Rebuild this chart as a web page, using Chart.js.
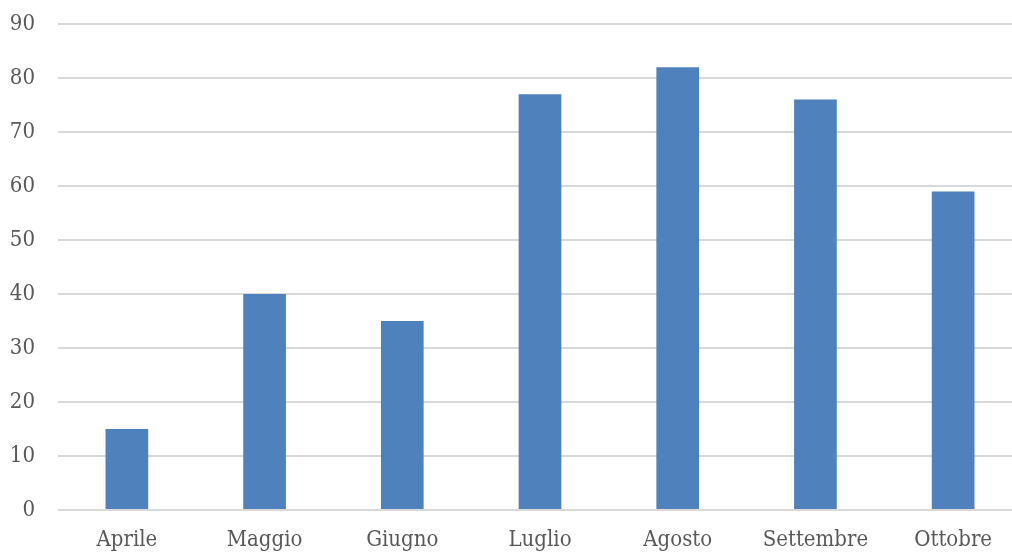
<!DOCTYPE html>
<html>
<head>
<meta charset="utf-8">
<script src="https://cdn.jsdelivr.net/npm/chart.js@4/dist/chart.umd.min.js"></script>
<style>
  html, body { margin: 0; padding: 0; background: #ffffff; overflow: hidden; }
  #wrap { position: absolute; left: 0; top: 0; width: 1024px; height: 553px; }
</style>
</head>
<body>
<div id="wrap"><canvas id="c" width="1024" height="553"></canvas></div>
<script>
// Mesi e valori mensili
const months = ['Aprile', 'Maggio', 'Giugno', 'Luglio', 'Agosto', 'Settembre', 'Ottobre'];
const values = [15, 40, 35, 77, 82, 76, 59];
const yMin = 0;
const yMax = 90;
const yStep = 10;

const textColor = '#595959';
const gridColor = '#d9d9d9';
const barColor = '#4f81bd';
const fontFamily = '"DejaVu Serif Condensed", "DejaVu Serif", serif';

new Chart(document.getElementById('c'), {
  type: 'bar',
  data: {
    labels: months,
    datasets: [{
      data: values,
      backgroundColor: barColor,
      borderWidth: 0,
      categoryPercentage: 1,
      barPercentage: 0.31
    }]
  },
  options: {
    responsive: false,
    animation: false,
    devicePixelRatio: 1,
    layout: { padding: { left: 10, right: 2, top: 24, bottom: 2 } },
    plugins: { legend: { display: false }, tooltip: { enabled: false } },
    scales: {
      x: {
        grid: { display: false, drawTicks: false },
        border: { display: false },
        ticks: {
          color: textColor,
          font: { family: fontFamily, size: 22 },
          padding: 17,
          maxRotation: 0,
          autoSkip: false
        },
        afterFit: (scale) => {
          scale.height = 41;
          scale.paddingLeft = 0;
          scale.paddingRight = 0;
        }
      },
      y: {
        min: yMin,
        max: yMax,
        grid: { color: gridColor, lineWidth: 2, drawTicks: false },
        border: { display: false },
        ticks: {
          stepSize: yStep,
          color: textColor,
          font: { family: fontFamily, size: 22 },
          padding: 23
        },
        afterFit: (scale) => {
          scale.width = 48;
          scale.paddingTop = 0;
          scale.paddingBottom = 0;
        }
      }
    }
  }
});
</script>
</body>
</html>
